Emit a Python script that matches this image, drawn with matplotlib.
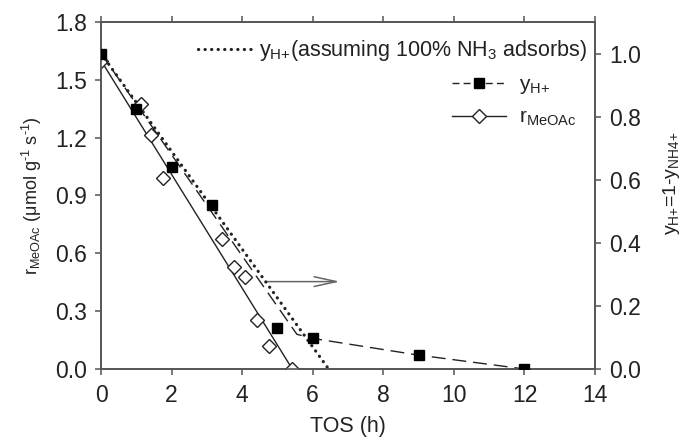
import matplotlib
matplotlib.use("Agg")
import matplotlib.pyplot as plt
from matplotlib.patches import FancyArrowPatch

plt.rcParams['font.family'] = ['Liberation Sans', 'DejaVu Sans']
plt.rcParams['mathtext.fontset'] = 'custom'
plt.rcParams['mathtext.rm'] = 'Liberation Sans'
plt.rcParams['mathtext.it'] = 'Liberation Sans'

# fraction of acid sites still free (right axis)
tos_h_plus = [0, 1, 2, 3.15, 5, 6, 9, 12]
y_h_plus = [1.0, 0.823, 0.641, 0.521, 0.131, 0.097, 0.044, 0.0]

# guide curve through the y_H+ data
tos_h_fit = [0, 5.55, 6, 9, 12]
y_h_fit = [1.0, 0.11, 0.097, 0.044, 0.0]

# ideal case, every NH3 molecule adsorbs
tos_ideal = [0, 6.45]
y_ideal = [1.0, 0.0]

# methyl acetate carbonylation rate (left axis)
tos_rate = [0, 1.12, 1.41, 1.76, 3.42, 3.78, 4.08, 4.41, 4.75, 5.42]
r_meoac = [1.60, 1.374, 1.214, 0.989, 0.673, 0.531, 0.476, 0.254, 0.119, 0.0]

tos_rate_fit = [0, 5.42]
r_meoac_fit = [1.60, 0.0]

x_ticks = [0, 2, 4, 6, 8, 10, 12, 14]
left_ticks = [0.0, 0.3, 0.6, 0.9, 1.2, 1.5, 1.8]
right_ticks = [0.0, 0.2, 0.4, 0.6, 0.8, 1.0]

ink = '#222222'
spine_col = '#555555'
dots = (0, (0.05, 2.0))

fig = plt.figure(figsize=(6.83, 4.45), dpi=100)
ax = fig.add_axes([0.1479, 0.1708, 0.8712 - 0.1479, 0.9506 - 0.1708])
ax2 = ax.twinx()

# rate data and fit on the left axis
ax.plot(tos_rate_fit, r_meoac_fit, color=ink, lw=1.0, zorder=2)
ax.plot(tos_rate, r_meoac, ls='none', marker='D', ms=7.5, mfc='white',
        mec=ink, mew=1.0, zorder=3)

# acid site fraction on the right axis
ax2.plot(tos_ideal, y_ideal, color=ink, lw=2.3, ls=dots,
         dash_capstyle='round', zorder=2)
ax2.plot(tos_h_fit, y_h_fit, color=ink, lw=1.0, ls=(0, (10, 5)), zorder=2)
ax2.plot(tos_h_plus, y_h_plus, ls='none', marker='s', ms=7.5, mfc='black',
         mec='black', zorder=4)

arrow = FancyArrowPatch((4.69, 0.277), (6.77, 0.277),
                        arrowstyle='->,head_length=1.6,head_width=0.35',
                        mutation_scale=10, color='#666666', lw=1.1,
                        shrinkA=0, shrinkB=0)
ax2.add_patch(arrow)

ax.set_xlim(0, 14)
ax.set_ylim(0, 1.8)
ax2.set_ylim(0, 1.1)

ax.set_xticks(x_ticks)
ax.set_yticks(left_ticks)
ax.set_yticklabels([f'{v:.1f}' for v in left_ticks])
ax2.set_yticks(right_ticks)
ax2.set_yticklabels([f'{v:.1f}' for v in right_ticks])

for a in (ax, ax2):
    for s in a.spines.values():
        s.set_color(spine_col)
        s.set_linewidth(1.2)
ax.tick_params(axis='x', which='both', top=True, direction='out', length=4,
               width=1.1, color=spine_col, labelsize=16.5, labelcolor=ink, pad=7)
ax.tick_params(axis='y', direction='out', length=4, width=1.1,
               color=spine_col, labelsize=16.5, labelcolor=ink, pad=6)
ax2.tick_params(axis='y', direction='out', length=4, width=1.1,
                color=spine_col, labelsize=16.5, labelcolor=ink, pad=6)

ax.set_xlabel('TOS (h)', fontsize=15.5, color=ink, labelpad=6)
ax.set_ylabel('$\\mathregular{r_{MeOAc}\\ (\\mu mol\\ g^{\u20101}\\ s^{\u20101})}$',
              fontsize=13, color=ink, labelpad=8)
ax2.set_ylabel('$\\mathregular{y_{H{+}}}$=1-$\\mathregular{y_{NH4{+}}}$',
               fontsize=14, color=ink)
ax2.yaxis.set_label_coords(1.133, 0.535)

# legend for the ideal line
h_ideal, = ax.plot([], [], color=ink, lw=2.3, ls=dots, dash_capstyle='round')
leg1 = ax.legend([h_ideal],
                 [r'$\mathregular{y_{H{+}}}$(assuming 100% NH$\mathregular{_3}$ adsorbs)'],
                 loc='upper right', bbox_to_anchor=(1.01, 0.99), frameon=False,
                 fontsize=15.5, handlelength=2.6, handletextpad=0.25,
                 borderaxespad=0.2, labelcolor=ink)
ax.add_artist(leg1)

h_y, = ax.plot([], [], color=ink, lw=1.0, ls=(0, (5, 3)), marker='s', ms=7,
               mfc='black', mec='black')
h_r, = ax.plot([], [], color=ink, lw=1.0, marker='D', ms=7, mfc='white',
               mec=ink)
ax.legend([h_y, h_r], [r'$\mathregular{y_{H{+}}}$', r'$\mathregular{r_{MeOAc}}$'],
          loc='upper right', bbox_to_anchor=(1.0, 0.9), frameon=False,
          fontsize=15, handlelength=2.6, handletextpad=0.6, labelspacing=0.55,
          labelcolor=ink)

fig.savefig('out.png', dpi=100)
